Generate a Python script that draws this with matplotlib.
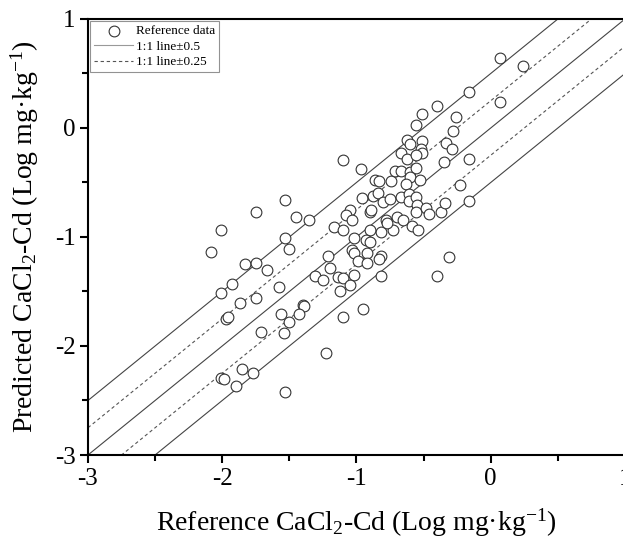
import numpy as np
import matplotlib
matplotlib.use("Agg")
import matplotlib.pyplot as plt
from matplotlib.ticker import MultipleLocator

plt.rcParams['font.family'] = ['Liberation Serif', 'DejaVu Serif']
plt.rcParams['mathtext.fontset'] = 'custom'
plt.rcParams['mathtext.rm'] = 'Liberation Serif'
plt.rcParams['mathtext.it'] = 'Liberation Serif:italic'
plt.rcParams['axes.unicode_minus'] = False

# reference (x) vs predicted (y), log mg/kg
ref_x = [-1.10, -0.97, -1.53, -1.75, -1.45, -1.35, -0.86, -0.83, -0.74, -0.96,
         -0.88, -0.84, -0.80, -0.75, -0.90, -0.89, -1.05, -1.08, -1.03, -1.17,
         -1.10, -0.78, -0.82, -0.73, -0.90, -1.02, -0.93, -0.90, -2.01, -2.08,
         -1.53, -1.50, -1.03, -1.02, -0.92, -0.82, -0.83, -0.99, -0.92, -1.21,
         -1.83, -1.75, -1.67, -1.20, -1.31, -1.25, -1.14, -1.10, -1.02, -1.05,
         -1.12, -0.82, -1.93, -2.01, -1.58, -1.87, -1.75, -1.97, -1.96, -1.40,
         -1.39, -1.43, -1.56, -1.50, -1.54, -1.71, -1.10, -0.95, -1.23, -1.85,
         -1.77, -2.01, -1.99, -1.90, -1.53,
         0.07, 0.24, -0.16, 0.07, -0.40, -0.51, -0.26, -0.56, -0.28, -0.62,
         -0.60, -0.51, -0.33, -0.29, -0.52, -0.51, -0.67, -0.62, -0.56, -0.35,
         -0.16, -0.71, -0.67, -0.60, -0.56, -0.60, -0.53, -0.63, -0.23, -0.67,
         -0.61, -0.61, -0.56, -0.55, -0.56, -0.48, -0.46, -0.37, -0.34, -0.16,
         -0.70, -0.65, -0.77, -0.59, -0.54, -0.31, -0.40]
pred_y = [-0.29, -0.38, -0.66, -0.77, -0.82, -0.84, -0.48, -0.49, -0.49, -0.64,
          -0.62, -0.60, -0.68, -0.65, -0.77, -0.75, -0.75, -0.80, -0.84, -0.91,
          -0.94, -0.84, -0.95, -0.94, -0.94, -1.01, -1.03, -1.05, -0.94, -1.14,
          -1.01, -1.11, -1.12, -1.15, -1.15, -1.17, -1.20, -1.22, -1.24, -1.17,
          -1.25, -1.24, -1.30, -1.28, -1.36, -1.39, -1.37, -1.38, -1.35, -1.44,
          -1.50, -1.36, -1.43, -1.51, -1.46, -1.61, -1.56, -1.75, -1.73, -1.62,
          -1.63, -1.71, -1.71, -1.78, -1.88, -1.87, -1.73, -1.66, -2.06, -2.21,
          -2.25, -2.29, -2.30, -2.37, -2.42,
          0.64, 0.57, 0.33, 0.24, 0.20, 0.13, 0.10, 0.03, -0.03, -0.11,
          -0.15, -0.12, -0.14, -0.19, -0.19, -0.23, -0.23, -0.28, -0.25, -0.31,
          -0.28, -0.39, -0.39, -0.40, -0.37, -0.45, -0.48, -0.51, -0.52, -0.63,
          -0.61, -0.67, -0.63, -0.71, -0.77, -0.73, -0.79, -0.77, -0.69, -0.67,
          -0.82, -0.84, -0.87, -0.90, -0.94, -1.18, -1.36]

line_x = [-3, 1]
offsets_solid = [-0.5, 0, 0.5]
offsets_dash = [-0.25, 0.25]

fig = plt.figure(figsize=(6.23, 5.44), dpi=100)
ax = fig.add_axes([0.1412, 0.1636, 0.862, 0.8015])

for k, off in enumerate(offsets_solid):
    ax.plot(line_x, [v + off for v in line_x], color='#444444', lw=0.8,
            label='1:1 line±0.5' if k == 0 else None, zorder=1)
for k, off in enumerate(offsets_dash):
    ax.plot(line_x, [v + off for v in line_x], color='#555555', lw=0.8,
            ls=(0, (3, 2.5)), label='1:1 line±0.25' if k == 0 else None, zorder=1)

ax.scatter(ref_x, pred_y, s=60, facecolors='white', edgecolors='#333333',
           linewidths=0.8, label='Reference data', zorder=2)

ax.set_xlim(-3, 1)
ax.set_ylim(-3, 1)
ax.xaxis.set_major_locator(MultipleLocator(1))
ax.yaxis.set_major_locator(MultipleLocator(1))
ax.xaxis.set_minor_locator(MultipleLocator(0.5))
ax.yaxis.set_minor_locator(MultipleLocator(0.5))
ax.tick_params(which='major', direction='out', length=6, width=1.5,
               labelsize=18, pad=3)
ax.tick_params(which='minor', direction='out', length=4, width=1.5)
for side in ['left', 'bottom', 'top']:
    ax.spines[side].set_linewidth(1.5)
ax.spines['right'].set_visible(False)

ax.set_xlabel('Reference CaCl$_2$-Cd (Log mg·kg$^{-1}$)', fontsize=20, labelpad=12)
ax.set_ylabel('Predicted CaCl$_2$-Cd (Log mg·kg$^{-1}$)', fontsize=20, labelpad=10)

handles, labels = ax.get_legend_handles_labels()
order = [labels.index('Reference data'), labels.index('1:1 line±0.5'),
         labels.index('1:1 line±0.25')]
leg = ax.legend([handles[i] for i in order], [labels[i] for i in order],
                loc='upper left', fontsize=9.5, frameon=True, fancybox=False,
                edgecolor='#777777', borderaxespad=0.15, handlelength=3.0,
                handletextpad=0.2, labelspacing=0.25, borderpad=0.3)
leg.get_frame().set_linewidth(0.8)
leg.legend_handles[1].set_color('#999999')

fig.savefig('out.png', dpi=100)
